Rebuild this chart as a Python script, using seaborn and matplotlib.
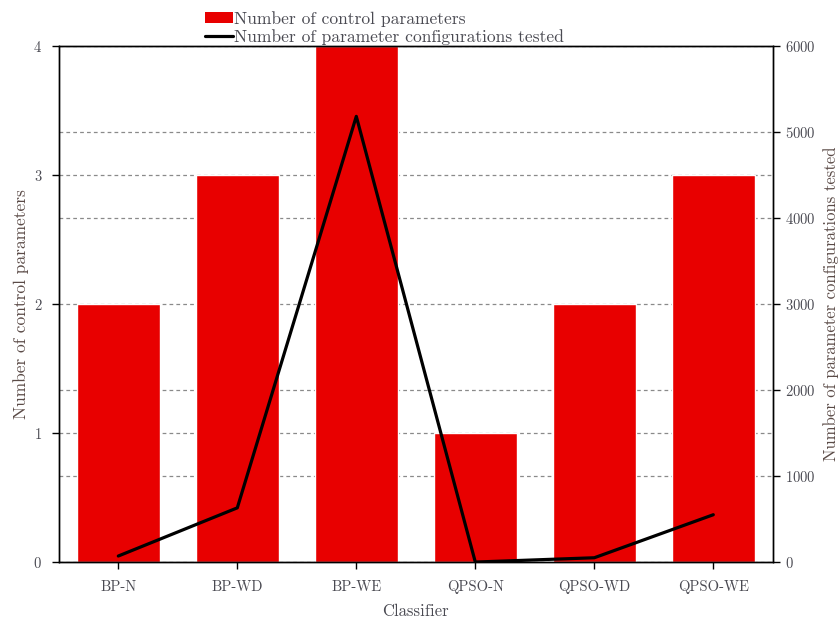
import matplotlib
matplotlib.use("Agg")
import matplotlib.pyplot as plt
from matplotlib.patches import Patch
from matplotlib.lines import Line2D
import numpy as np
import pandas as pd
import seaborn as sns

classifiers = ["BP-N", "BP-WD", "BP-WE", "QPSO-N", "QPSO-WD", "QPSO-WE"]
n_params = [2, 3, 4, 1, 2, 3]
n_configs = [70, 630, 5180, 0, 50, 550]

left_ticks = [0, 1, 2, 3, 4]
right_ticks = [0, 1000, 2000, 3000, 4000, 5000, 6000]

sns.set_style("ticks")
plt.rcParams["font.family"] = ["cmr10", "DejaVu Serif"]
plt.rcParams["axes.formatter.use_mathtext"] = True

text_c = "#4a4a52"
label_c = "#5a4a46"
bar_c = "#e80000"

df = pd.DataFrame({"Classifier": classifiers, "params": n_params, "configs": n_configs})

fig = plt.figure(figsize=(8.4, 6.19), dpi=100)
ax = fig.add_axes([0.070, 0.092, 0.850, 0.834])

sns.barplot(data=df, x="Classifier", y="params", color=bar_c, width=0.7,
            saturation=1, ax=ax, zorder=2)
ax.set_xlim(-0.5, len(classifiers) - 0.5)
ax.set_ylim(0, 4)
ax.set_yticks(left_ticks)
# dashed grid lines for the right-hand scale, expressed in left-axis units
ratio = right_ticks[-1] / left_ticks[-1]
ax.set_yticks([t / ratio for t in right_ticks], minor=True)
ax.tick_params(axis="y", which="minor", length=0)
ax.grid(axis="y", which="both", linestyle=(0, (3, 2.5)), color="#8a8a8a", linewidth=0.9)
ax.set_axisbelow(True)

ax2 = ax.twinx()
sns.lineplot(data=df, x="Classifier", y="configs", color="black", linewidth=2.3,
             ax=ax2, sort=False)
ax2.set_ylim(0, 6000)
ax2.set_yticks(right_ticks)
ax2.grid(False)

for a in (ax, ax2):
    for s in a.spines.values():
        s.set_visible(True)
        s.set_color("black")
        s.set_linewidth(1.0)
    a.tick_params(direction="out", length=5, width=1, colors="black",
                  labelcolor=text_c, labelsize=10.5)
ax.tick_params(axis="x", pad=8)
ax.tick_params(axis="y", pad=7)

ax.set_xlabel("Classifier", fontsize=12, color=text_c, labelpad=7)
ax.set_ylabel("Number of control parameters", fontsize=12.5, color=label_c, labelpad=3)
ax2.set_ylabel("Number of parameter configurations tested", fontsize=12, color=label_c,
               labelpad=6)

handles = [Patch(facecolor=bar_c, edgecolor="none"),
           Line2D([], [], color="black", linewidth=2.3)]
labels = ["Number of control parameters", "Number of parameter configurations tested"]
fig.legend(handles, labels, loc="upper left", bbox_to_anchor=(0.225, 1.008),
           frameon=False, fontsize=12.6, handlelength=1.6, handleheight=0.6,
           handletextpad=0.1, labelspacing=0.12, labelcolor=text_c)

fig.savefig("out.png", dpi=100)
